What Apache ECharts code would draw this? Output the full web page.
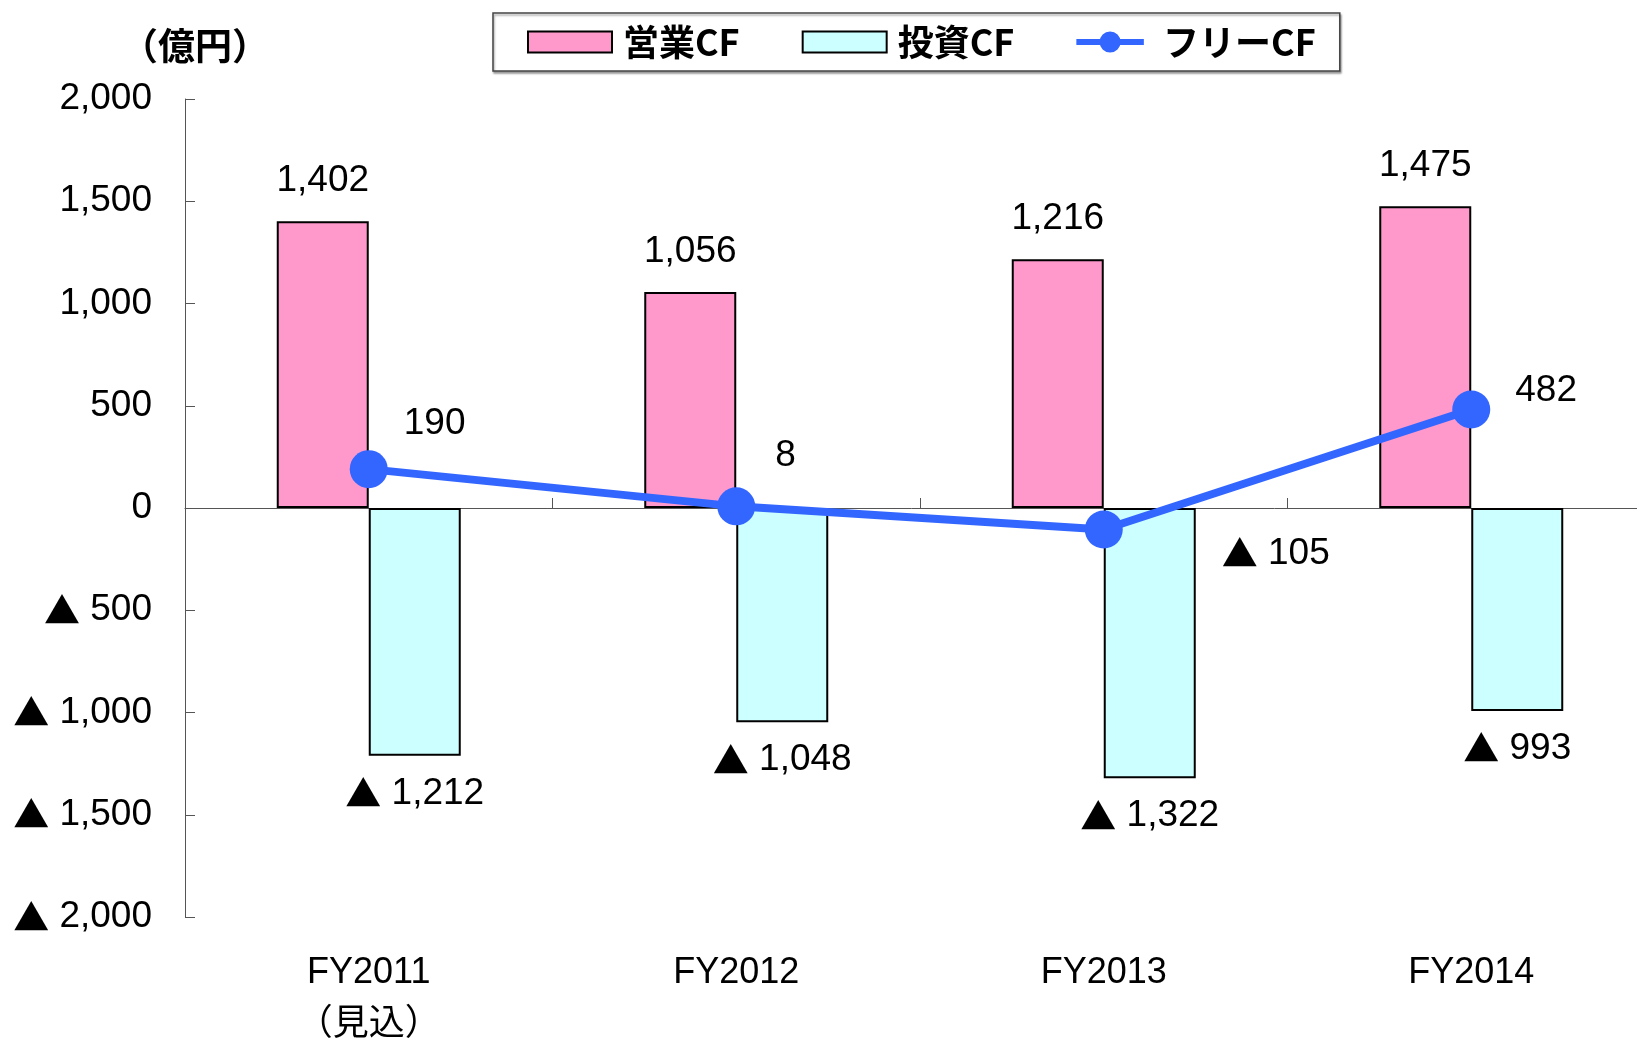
<!DOCTYPE html>
<html>
<head>
<meta charset="utf-8">
<script src="https://cdn.jsdelivr.net/npm/echarts@6/dist/echarts.min.js"></script>
<style>
html,body{margin:0;padding:0;background:#fff;overflow:hidden;}
#main{width:1637px;height:1043px;}
</style>
</head>
<body>
<div id="main"></div>
<script>
var categories = ['FY2011\n（見込）', 'FY2012', 'FY2013', 'FY2014'];
var operatingCF = [1402, 1056, 1216, 1475];
var investingCF = [-1212, -1048, -1322, -993];
var freeCF = [190, 8, -105, 482];
var yTicks = [-2000, 2000, 500];

function fmt(v) {
  var s = Math.abs(v).toLocaleString('en-US');
  return v < 0 ? '{t|▲} ' + s : s;
}

var latin = '"Liberation Sans", Arial, "Noto Sans CJK JP", sans-serif';
var cjk = '"Noto Sans CJK JP", "Liberation Sans", sans-serif';
var triRich = {t: {fontFamily: cjk, fontSize: 36, color: '#000'}};

// per-point label offsets for free CF
var freeLabelOffsets = [[35, -45], [39, -51], [118, 24], [44, -19]];

var chart = echarts.init(document.getElementById('main'), null, {renderer: 'canvas'});

var option = {
  animation: false,
  backgroundColor: '#fff',
  title: {
    text: '（億円）',
    left: 116,
    top: 22,
    textStyle: {fontFamily: cjk, fontWeight: 'bold', fontSize: 37, color: '#000'}
  },
  legend: {
    left: 493,
    top: 13,
    padding: [11, 24, 11, 34],
    itemGap: 62,
    itemWidth: 84,
    itemHeight: 21,
    borderColor: '#444',
    borderWidth: 1.5,
    backgroundColor: '#fff',
    shadowColor: 'rgba(0,0,0,0.35)',
    shadowBlur: 2,
    shadowOffsetX: 1,
    shadowOffsetY: 2,
    textStyle: {fontFamily: cjk, fontWeight: 'bold', fontSize: 36, color: '#000', padding: [0, 0, 0, 6]},
    data: [
      {name: '営業CF', icon: 'rect', itemStyle: {color: '#FF99CC', borderColor: '#000', borderWidth: 2}},
      {name: '投資CF', icon: 'rect', itemStyle: {color: '#CCFFFF', borderColor: '#000', borderWidth: 2}},
      {
        name: 'フリーCF',
        icon: 'path://M0,10 L90,10 L90,18 L0,18 Z M45,0 A14,14 0 1,1 44.99,0 Z',
        itemStyle: {color: '#3366FF', borderWidth: 0}
      }
    ]
  },
  grid: {left: 185, right: -18, top: 99, bottom: 126, containLabel: false, outerBoundsMode: 'none'},
  xAxis: [
    {
      type: 'category',
      data: categories,
      axisLine: {onZero: true, lineStyle: {color: '#555', width: 1}},
      axisTick: {show: true, inside: true, length: 10, lineStyle: {color: '#555'}},
      axisLabel: {show: false},
      splitLine: {show: false}
    },
    {
      type: 'category',
      data: categories,
      position: 'bottom',
      axisLine: {show: false, onZero: false},
      axisTick: {show: false},
      axisLabel: {
        show: true,
        margin: 30,
        fontFamily: latin,
        fontSize: 36,
        lineHeight: 52,
        color: '#000'
      },
      splitLine: {show: false}
    }
  ],
  yAxis: {
    type: 'value',
    min: yTicks[0],
    max: yTicks[1],
    interval: yTicks[2],
    axisLine: {show: true, lineStyle: {color: '#555', width: 1}},
    axisTick: {show: true, inside: true, length: 10, lineStyle: {color: '#555'}},
    splitLine: {show: false},
    axisLabel: {
      margin: 33,
      fontFamily: latin,
      fontSize: 37,
      color: '#000',
      rich: triRich,
      formatter: function (v) { return fmt(v); }
    }
  },
  series: [
    {
      name: '営業CF',
      type: 'bar',
      xAxisIndex: 0,
      data: operatingCF,
      barWidth: 92,
      barGap: '0%',
      itemStyle: {color: '#FF99CC', borderColor: '#000', borderWidth: 2},
      label: {
        show: true, position: 'top', distance: 22,
        fontFamily: latin, fontSize: 37, color: '#000', rich: triRich,
        formatter: function (p) { return fmt(p.value); }
      },
      z: 2
    },
    {
      name: '投資CF',
      type: 'bar',
      xAxisIndex: 0,
      data: investingCF,
      barWidth: 92,
      barGap: '0%',
      itemStyle: {color: '#CCFFFF', borderColor: '#000', borderWidth: 2},
      label: {
        show: true, position: 'bottom', distance: 19,
        fontFamily: latin, fontSize: 37, color: '#000', rich: triRich,
        formatter: function (p) { return fmt(p.value); }
      },
      z: 2
    },
    {
      name: 'フリーCF',
      type: 'line',
      xAxisIndex: 0,
      data: freeCF.map(function (v, i) {
        return {
          value: v,
          label: {offset: freeLabelOffsets[i]}
        };
      }),
      symbol: 'circle',
      symbolSize: 38,
      lineStyle: {color: '#3366FF', width: 8},
      itemStyle: {color: '#3366FF'},
      label: {
        show: true, position: 'inside', align: 'left', verticalAlign: 'middle',
        fontFamily: latin, fontSize: 37, color: '#000', rich: triRich,
        formatter: function (p) { return fmt(p.value); }
      },
      z: 5
    }
  ]
};
chart.setOption(option);
</script>
</body>
</html>
